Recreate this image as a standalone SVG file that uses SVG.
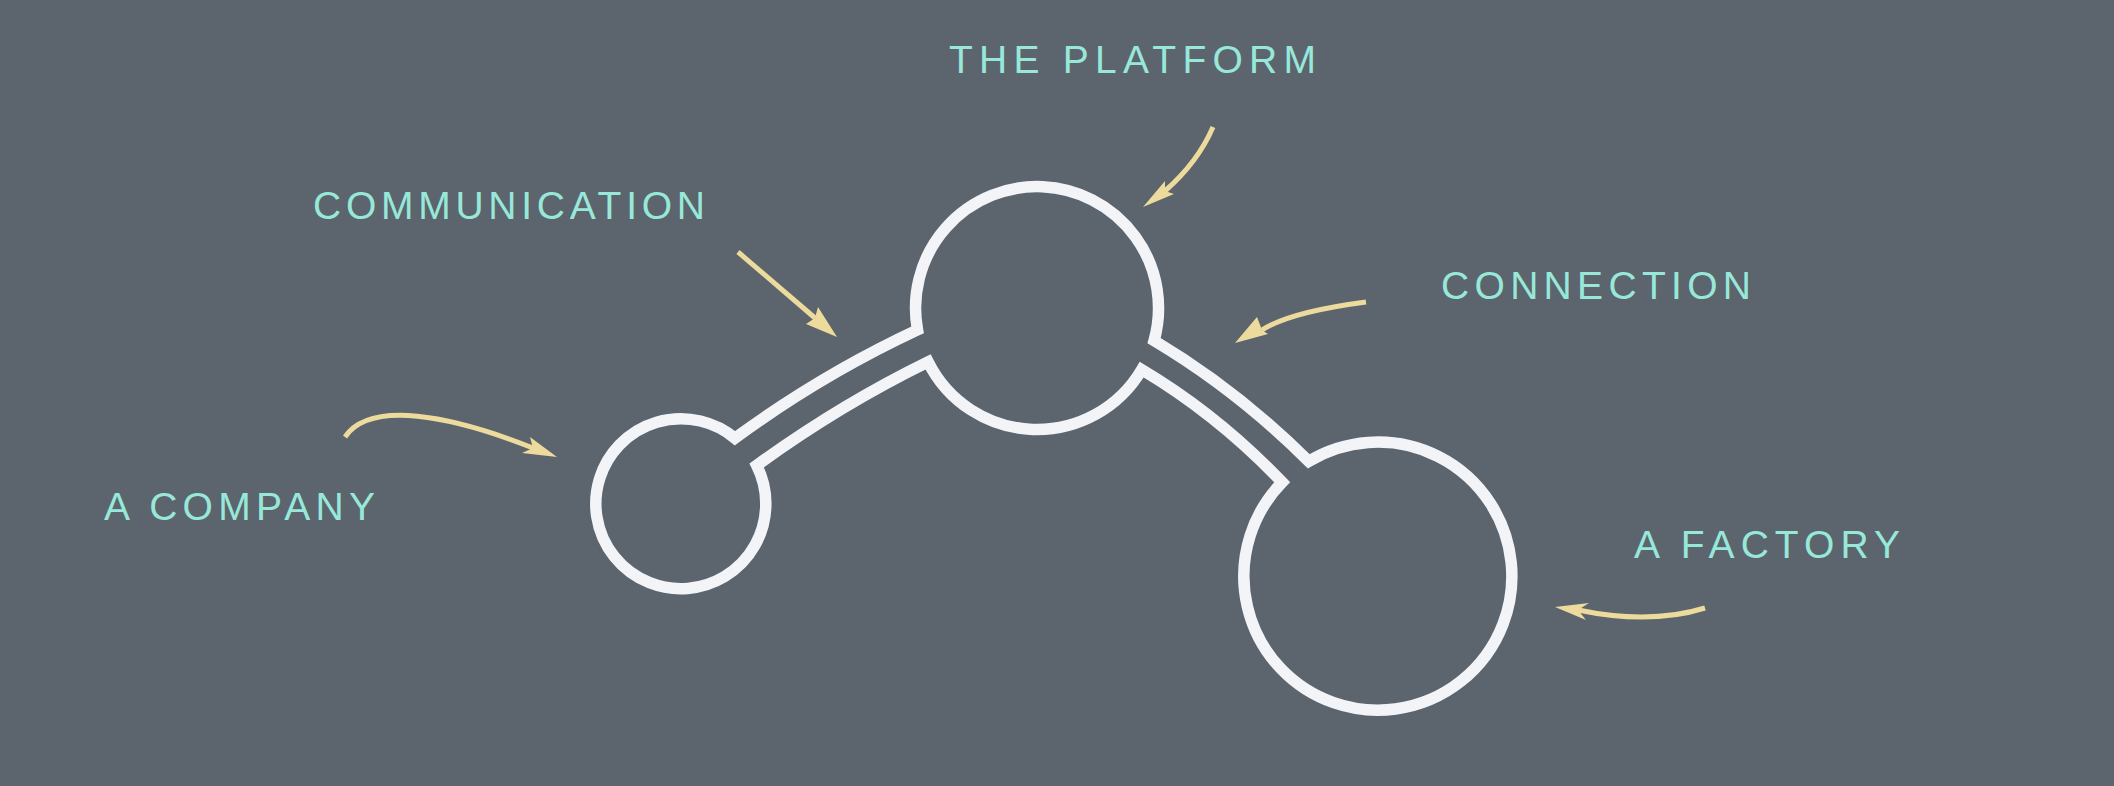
<svg xmlns="http://www.w3.org/2000/svg" width="2114" height="786" viewBox="0 0 2114 786">
<style>
.bg{fill:#5c646e}
.blob{fill:none;stroke:#f3f4f8;stroke-width:11.5;stroke-linejoin:miter;stroke-miterlimit:10}
.arr{fill:none;stroke:#ecdb9c;stroke-width:5;stroke-linecap:butt}
.head{fill:#ecdb9c}
.lbl{font-family:"Liberation Sans","DejaVu Sans",sans-serif;fill:#98e8da;font-size:39px}
</style>
<rect class="bg" x="0" y="0" width="2114" height="786"/>
<g id="connectors">
<path class="blob" d="M735,438.2 Q821,375 917.5,329.9 A121.5,121.5 0 1 1 1154.1,340.6 Q1237,390 1308.8,461.3 A134,134 0 1 1 1282.2,482.3 Q1218,415 1141.7,369.6 A121.5,121.5 0 0 1 928.1,361.9 Q840,405 756.7,465.4 A85,85 0 1 1 735,438.2 Z"/>
<path class="arr" d="M1213,127 Q1198,162 1165,191"/>
<polygon class="head" points="1143,207 1165,181 1165,191 1174,194"/>
<path class="arr" d="M738,252 L815,318"/>
<polygon class="head" points="837,337 818,307 815,318 806,324"/>
<path class="arr" d="M345,437 C370,400 450,415 533,448"/>
<polygon class="head" points="557,457 530,437 533,448 522,453"/>
<path class="arr" d="M1366,302 Q1290,312 1262,330"/>
<polygon class="head" points="1235,343 1257,317 1262,330 1268,334"/>
<path class="arr" d="M1705,608 Q1650,625 1578,610"/>
<polygon class="head" points="1555,607 1589,603 1578,610 1586,620"/>
</g>
<g id="node-platform"><text class="lbl" x="949" y="73" textLength="367" lengthAdjust="spacing">THE PLATFORM</text></g>
<g id="node-communication"><text class="lbl" x="313" y="219" textLength="392" lengthAdjust="spacing">COMMUNICATION</text></g>
<g id="node-connection"><text class="lbl" x="1441" y="299" textLength="310" lengthAdjust="spacing">CONNECTION</text></g>
<g id="node-company"><text class="lbl" x="104" y="520" textLength="271" lengthAdjust="spacing">A COMPANY</text></g>
<g id="node-factory"><text class="lbl" x="1634" y="558" textLength="266" lengthAdjust="spacing">A FACTORY</text></g>
</svg>
